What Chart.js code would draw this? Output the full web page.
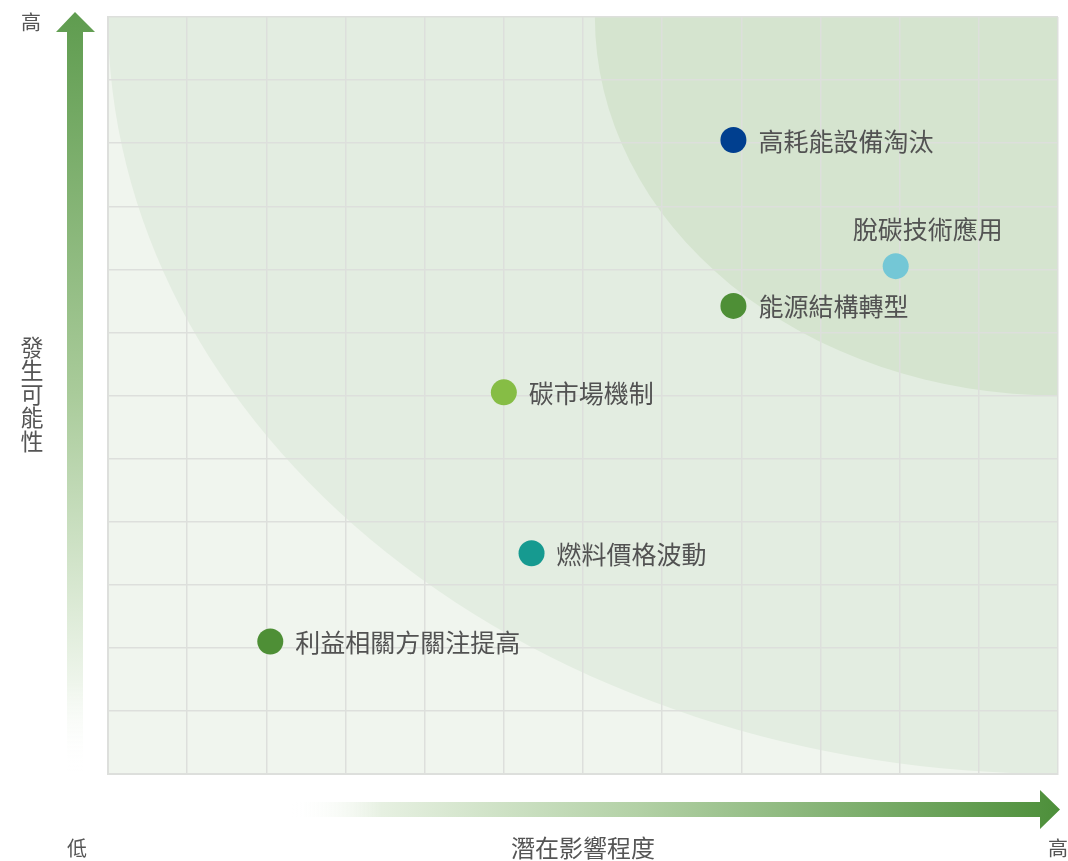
<!DOCTYPE html>
<html><head><meta charset="utf-8">
<script src="https://cdn.jsdelivr.net/npm/chart.js@4.4.1/dist/chart.umd.min.js"></script>
<style>html,body{margin:0;padding:0;background:#fff;overflow:hidden;}#wrap{width:1068px;height:861px;}canvas{display:block;}</style>
</head><body><div id="wrap"><canvas id="c" width="1068" height="861"></canvas></div>
<script>
const riskNames = ['高耗能設備淘汰','脫碳技術應用','能源結構轉型','碳市場機制','燃料價格波動','利益相關方關注提高'];
const impactValues = [7.9, 9.95, 7.9, 5.0, 5.35, 2.05];
const likelihoodValues = [10.05, 8.05, 7.42, 6.05, 3.5, 2.1];
const pointColors = ['#003f8f','#74c7d6','#4e8f36','#86bd45','#169a90','#4e8f36'];
const labelPlacement = ['right','above','right','right','right','right'];
const axisMin = 0, axisMax = 12;
const yAxisTitle = '發生可能性';
const xAxisTitle = '潛在影響程度';
const highLabel = '高', lowLabel = '低';

const FONT = '"Noto Sans CJK TC","Noto Sans",sans-serif';

const bgPlugin = {
  id: 'bg',
  beforeDraw(chart) {
    const {ctx, chartArea: a, scales: {x, y}} = chart;
    ctx.save();
    ctx.beginPath(); ctx.rect(a.left, a.top, a.right - a.left, a.bottom - a.top); ctx.clip();
    ctx.fillStyle = '#f0f5ee';
    ctx.fillRect(a.left, a.top, a.right - a.left, a.bottom - a.top);
    const cx = x.getPixelForValue(axisMax), cy = y.getPixelForValue(axisMax);
    ctx.fillStyle = '#e3ede1';
    ctx.beginPath();
    ctx.ellipse(cx, cy, cx - x.getPixelForValue(0), y.getPixelForValue(0) - cy, 0, 0, Math.PI * 2);
    ctx.fill();
    ctx.fillStyle = '#d5e4cf';
    ctx.beginPath();
    ctx.ellipse(cx, cy, cx - x.getPixelForValue(6.15), y.getPixelForValue(6.0) - cy, 0, 0, Math.PI * 2);
    ctx.fill();
    ctx.restore();
  },
  afterDraw(chart) {
    const {ctx, chartArea: a} = chart;
    ctx.save();
    // vertical arrow
    let g = ctx.createLinearGradient(0, a.bottom, 0, 12);
    g.addColorStop(0, 'rgba(255,255,255,0)');
    g.addColorStop(0.12, '#eef5eb');
    g.addColorStop(0.5, '#a9cb9a');
    g.addColorStop(1, '#5f9c4f');
    ctx.fillStyle = g;
    ctx.beginPath();
    ctx.moveTo(67, a.bottom); ctx.lineTo(67, 32); ctx.lineTo(56, 32); ctx.lineTo(75, 12);
    ctx.lineTo(95, 32); ctx.lineTo(83, 32); ctx.lineTo(83, a.bottom); ctx.closePath();
    ctx.fill();
    // horizontal arrow
    g = ctx.createLinearGradient(290, 0, 1060, 0);
    g.addColorStop(0, 'rgba(255,255,255,0)');
    g.addColorStop(0.12, '#e6f0e1');
    g.addColorStop(0.45, '#b3d1a6');
    g.addColorStop(1, '#4d8f3a');
    ctx.fillStyle = g;
    ctx.beginPath();
    ctx.moveTo(290, 802); ctx.lineTo(1040, 802); ctx.lineTo(1040, 790); ctx.lineTo(1060, 809.5);
    ctx.lineTo(1040, 829); ctx.lineTo(1040, 817); ctx.lineTo(290, 817); ctx.closePath();
    ctx.fill();
    // texts
    ctx.fillStyle = '#555';
    ctx.font = '20px ' + FONT;
    ctx.textAlign = 'center'; ctx.textBaseline = 'middle';
    ctx.fillText(highLabel, 31, 22);
    ctx.fillText(lowLabel, 77, 848);
    ctx.fillText(highLabel, 1058, 848);
    ctx.font = '24px ' + FONT;
    ctx.fillText(xAxisTitle, 583, 848);
    ctx.font = '23px ' + FONT;
    const chars = Array.from(yAxisTitle);
    chars.forEach((ch, i) => ctx.fillText(ch, 32, 347 + i * 23.5));
    ctx.restore();
  }
};

const labelPlugin = {
  id: 'labels',
  afterDatasetsDraw(chart) {
    const {ctx} = chart;
    const meta = chart.getDatasetMeta(0);
    ctx.save();
    ctx.fillStyle = '#525252';
    ctx.font = '25px ' + FONT;
    meta.data.forEach((el, i) => {
      const {x, y} = el.getProps(['x', 'y'], true);
      if (labelPlacement[i] === 'above') {
        ctx.textAlign = 'center'; ctx.textBaseline = 'middle';
        ctx.fillText(riskNames[i], x + 32, y - 37);
      } else {
        ctx.textAlign = 'left'; ctx.textBaseline = 'middle';
        ctx.fillText(riskNames[i], x + 25, y + 1);
      }
    });
    ctx.restore();
  }
};

new Chart(document.getElementById('c'), {
  type: 'scatter',
  data: {
    datasets: [{
      data: impactValues.map((v, i) => ({x: v, y: likelihoodValues[i]})),
      pointBackgroundColor: pointColors,
      pointBorderWidth: 0,
      pointRadius: 13,
      pointHoverRadius: 13
    }]
  },
  options: {
    responsive: false,
    animation: false,
    devicePixelRatio: 1,
    layout: {autoPadding: false, padding: {left: 108, top: 17, right: 10, bottom: 87}},
    plugins: {legend: {display: false}, tooltip: {enabled: false}},
    scales: {
      x: {
        min: axisMin, max: axisMax,
        ticks: {display: false, stepSize: 1},
        grid: {color: '#dddfdc', lineWidth: 1.5, drawTicks: false, tickLength: 0},
        border: {display: true, color: '#dddfdc', width: 2}
      },
      y: {
        min: axisMin, max: axisMax,
        ticks: {display: false, stepSize: 1},
        grid: {color: '#dddfdc', lineWidth: 1.5, drawTicks: false, tickLength: 0},
        border: {display: true, color: '#dddfdc', width: 2}
      }
    }
  },
  plugins: [bgPlugin, labelPlugin]
});
</script>
</body></html>
